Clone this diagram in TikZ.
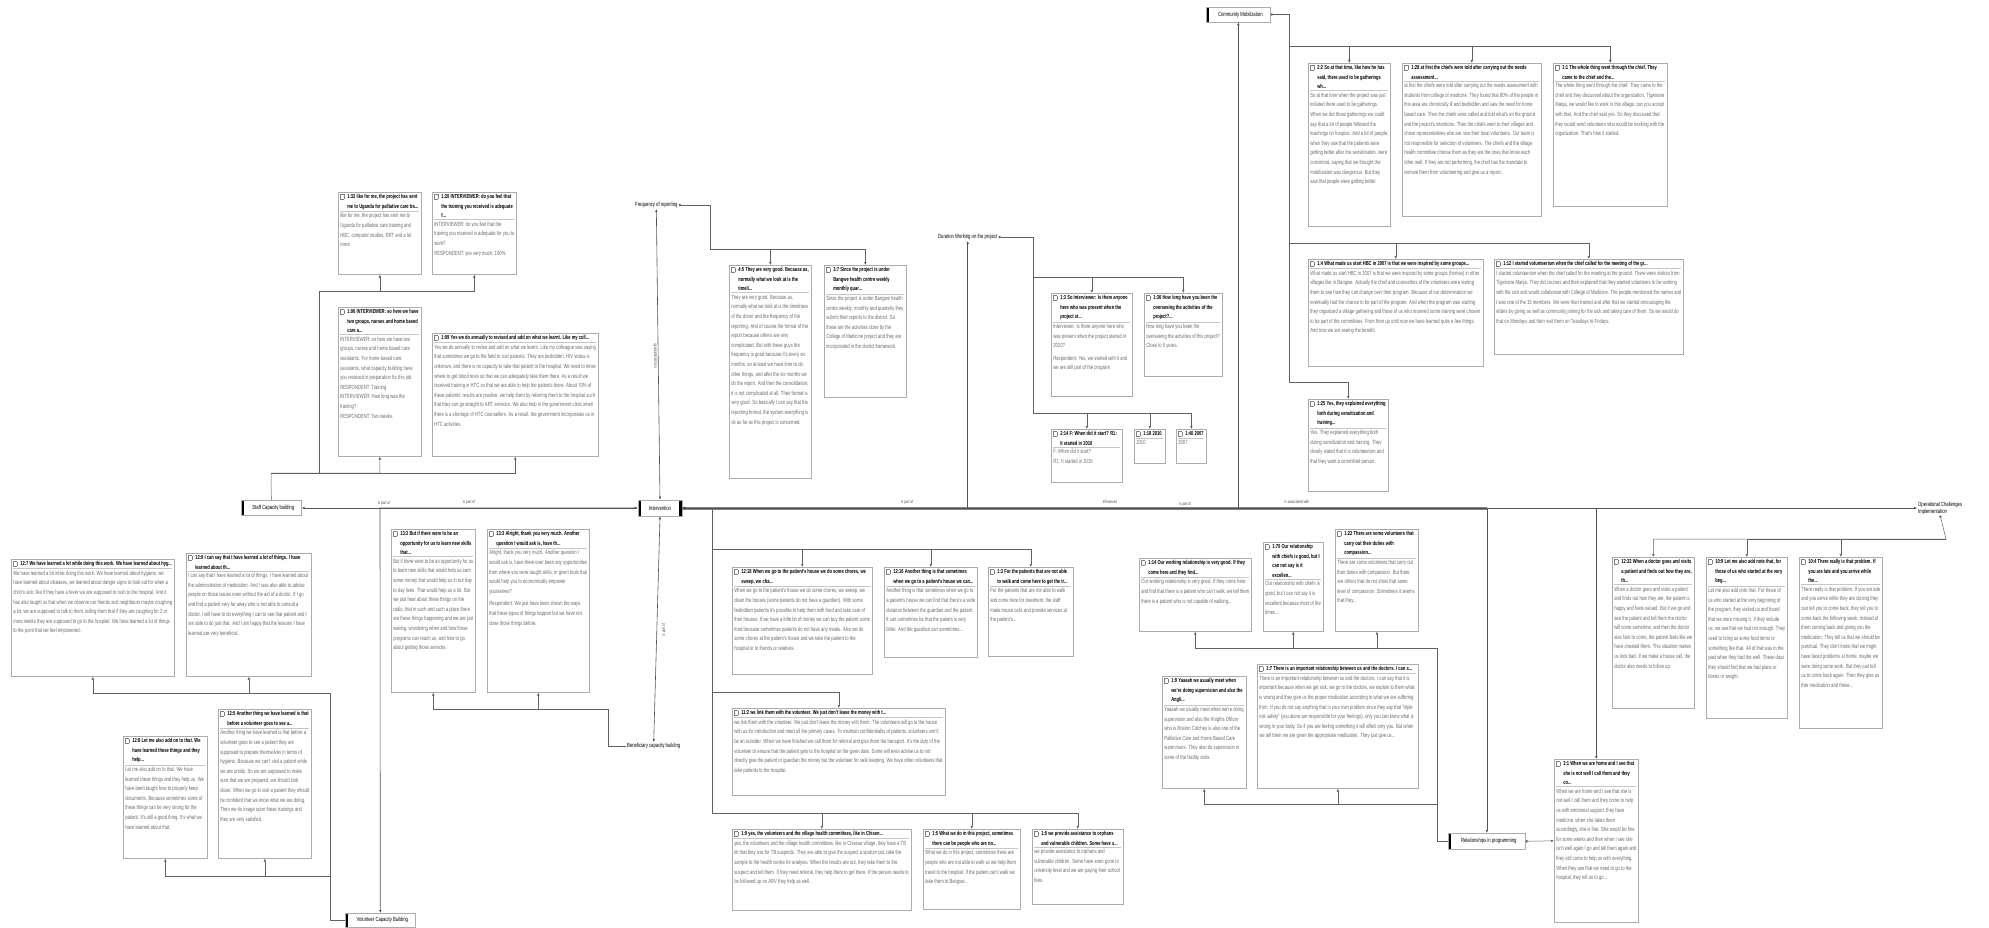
\documentclass[tikz,border=0pt]{standalone}
\usepackage{fontspec}
\setmainfont{Liberation Sans}[FakeStretch=0.7]
\usetikzlibrary{arrows.meta}
\newcommand{\qicon}{{\color{gray}\fboxsep=0pt\fboxrule=.4pt\fbox{\rule{0pt}{4pt}\rule{3pt}{0pt}}}}
\newcommand{\qcontent}[4]{\parbox[c][#2][t]{#1}{\raggedright\fontsize{5.8}{9.6}\selectfont\hangindent=7pt\hangafter=1\noindent\makebox[7pt][l]{\qicon}\textbf{#3}\par\vspace{1.5pt}{\color{gray!45}\hrule height 0.5pt}\vspace{2pt}\fontsize{6}{9.6}\selectfont\color{gray!85!black}#4\par}}
\newcommand{\qb}[7]{\node[qbox] (#1) at (#2,#3) {\qcontent{\dimexpr #4pt-#2pt-5pt\relax}{\dimexpr #5pt-#3pt-5pt\relax}{#6}{#7}};}
\tikzset{
  qbox/.style={draw=gray!65, line width=0.6pt, fill=white, inner sep=2pt, anchor=north west},
  barl/.style={path picture={\fill[black] (path picture bounding box.north west) rectangle ([xshift=3pt]path picture bounding box.south west);}},
  barr/.style={path picture={\fill[black] (path picture bounding box.north west) rectangle ([xshift=3pt]path picture bounding box.south west);\fill[black] (path picture bounding box.north east) rectangle ([xshift=-3pt]path picture bounding box.south east);}},
  code/.style={draw=gray!65, line width=0.6pt, fill=white, inner xsep=3pt, inner ysep=1.5pt, font=\fontsize{6}{7}\selectfont, barl},
  codet/.style={inner sep=1pt, font=\fontsize{6}{7}\selectfont},
  lk/.style={draw=gray!75!black, line width=0.5pt, -{Latex[length=3pt,width=2.6pt]}},
  lkd/.style={draw=gray!75!black, line width=0.5pt, {Circle[length=2.4pt]}-{Latex[length=3pt,width=2.6pt]}},
  rl/.style={draw=gray!65!black, line width=0.6pt, {Latex[length=3pt,width=2.6pt]}-{Latex[length=3pt,width=2.6pt]}},
  trunk/.style={draw=black!50, line width=3pt},
  lbl/.style={font=\fontsize{4.5}{5}\selectfont, inner sep=0.5pt, text=gray!60!black},
}
\begin{document}
\begin{tikzpicture}[x=1pt,y=-1pt]
\useasboundingbox (0,0) rectangle (1989,928);

% ---------------- code nodes ----------------
\node[code, anchor=west, minimum width=60pt, minimum height=15pt] (staff) at (241,508) {\hspace{4pt}Staff Capacity building};
\node[code, barr, minimum width=44pt, minimum height=16pt, inner xsep=5pt] (int) at (660,508) {Intervention};
\node[codet, anchor=west] (fr) at (634,205) {Frequency of reporting};
\node[codet, anchor=west] (dur) at (937,237) {Duration Working on the project};
\node[code, anchor=west, minimum width=64pt, minimum height=15pt] (com) at (1206,14.5) {\hspace{4pt}Community Mobilization};
\node[codet, anchor=west] (ben) at (626,746) {Beneficiary capacity building};
\node[code, anchor=north west, minimum width=70pt, minimum height=14pt] (vol) at (345,913) {\hspace{4pt}Volunteer Capacity Building};
\node[code, anchor=north west, minimum width=77pt, minimum height=16pt] (rel) at (1448,833) {\hspace{4pt}Relationships in programming};
\node[codet, anchor=west, align=left] (op) at (1917,508) {Operational Challenges\\Implementation};

% ---------------- quotation boxes ----------------
% Staff capacity building
\qb{q132}{338}{192}{422}{275}{1:32 like for me, the project has sent me to Uganda for palliative care tra...}{like for me, the project has sent me to Uganda for palliative care training and HBC, computer studies, ERT and a lot more.}
\qb{q120}{432}{192}{517}{275}{1:20 INTERVIEWER: do you feel that the training you received is adequate f...}{INTERVIEWER: do you feel that the training you received is adequate for you to work?\newline RESPONDENT: yes very much, 100\%}
\qb{q106}{338}{307}{422}{457}{1:06 INTERVIEWER: so here we have two groups, nurses and home based care a...}{INTERVIEWER: so here we have two groups, nurses and home based care assistants. For home based care assistants, what capacity building have you received in preparation for this job.\newline RESPONDENT: Training\newline INTERVIEWER: How long was the training?\newline RESPONDENT: Two weeks.}
\qb{q109}{432}{333}{599}{457}{1:09 Yes we do annually to revised and add on what we learnt. Like my coll...}{Yes we do annually to revise and add on what we learnt. Like my colleague was saying that sometimes we go to the field to visit patients. They are bedridden, HIV status is unknown, and there is no capacity to take that patient to the hospital. We need to know where to get blood tests so that we can adequately take them there. As a result we received training in HTC so that we are able to help the patients there. About 70\% of these patients' results are positive, we help them by referring them to the hospital such that they can go straight to ART services. We also help in the government clinic when there is a shortage of HTC counsellors. As a result, the government incorporates us in HTC activities.}

% Volunteer capacity building
\qb{q127}{11}{559}{175}{677}{12:7 We have learned a lot while doing this work. We have learned about hyg...}{We have learned a lot while doing this work. We have learned about hygiene, we have learned about diseases, we learned about danger signs to look out for when a child's sick; like if they have a fever we are supposed to rush to the hospital. And it has also taught us that when we observe our friends and neighbours maybe coughing a lot, we are supposed to talk to them, telling them that if they are coughing for 2 or more weeks they are supposed to go to the hospital. We have learned a lot of things to the point that we feel empowered.}
\qb{q125}{186}{553}{312}{677}{12:9 I can say that I have learned a lot of things. I have learned about th...}{I can say that I have learned a lot of things. I have learned about the administration of medication. And I was also able to advise people on those issues even without the aid of a doctor. If I go and find a patient very far away who is not able to consult a doctor, I will have to do everything I can to see that patient and I am able to do just that. And I am happy that the lessons I have learned are very beneficial.}
\qb{q130}{123}{736}{208}{859}{12:8 Let me also add on to that. We have learned these things and they help...}{Let me also add on to that. We have learned these things and they help us. We have been taught how to properly keep documents. Because sometimes some of these things can be very strong for the patient. It's still a good thing. It's what we have learned about that.}
\qb{q129}{218}{709}{312}{859}{12:5 Another thing we have learned is that before a volunteer goes to see a...}{Another thing we have learned is that before a volunteer goes to see a patient they are supposed to prepare themselves in terms of hygiene. Because we can't visit a patient while we are untidy. So we are supposed to make sure that we are prepared, we should look clean. When we go to visit a patient they should be confident that we know what we are doing. Then we do image upon these trainings and they are very satisfied.}

% Beneficiary capacity building
\qb{q112a}{391}{529}{476}{693}{13:2 But if there were to be an opportunity for us to learn new skills that...}{But if there were to be an opportunity for us to learn new skills that would help us earn some money that would help us in our day to day lives. That would help us a lot. But we just hear about these things on the radio, that in such and such a place there are these things happening and we are just waiting, wondering when and how those programs can reach us, and how to go about getting those services.}
\qb{q13}{487}{529}{590}{693}{13:3 Alright, thank you very much. Another question I would ask is, have th...}{Alright, thank you very much. Another question I would ask is, have there ever been any opportunities from where you were taught skills, or given tools that would help you to economically empower yourselves?\par\vspace{3pt}Respondent: We just have been shown the ways that these types of things happen but we have not done those things before.}

% Frequency of reporting
\qb{q45}{729}{265}{812}{479}{4:5 They are very good. Because as, normally what we look at is the timeli...}{They are very good. Because as, normally what we look at is the timeliness of the donor and the frequency of the reporting. And of course the format of the report because others are very complicated. But with these guys the frequency is good because it's every six months, so at least we have time to do other things, and after the six months we do the report. And then the consolidation, it is not complicated at all. Their format is very good. So basically I can say that the reporting format, the system everything is ok as far as this project is concerned.}
\qb{q37}{824}{265}{907}{398}{3:7 Since the project is under Bangwe health centre weekly monthly quar...}{Since the project is under Bangwe health centre weekly, monthly and quarterly they submit their reports to the district. So these are the activities done by the College of Medicine project and they are incorporated in the district framework.}

% Duration
\qb{q3i}{1051}{293}{1133}{397}{1:3 So Interviewer: Is there anyone here who was present when the project st...}{Interviewer: Is there anyone here who was present when the project started in 2010?\par\vspace{3pt}Respondent: Yes, we started with it and we are still part of the program}
\qb{q36}{1144}{293}{1223}{377}{1:36 How long have you been the overseeing the activities of the project?...}{How long have you been the overseeing the activities of this project?\newline Close to 5 years.}
\qb{q4}{1051}{429}{1123}{483}{2:14 F: When did it start? R1: It started in 2010}{F: When did it start?\newline R1: It started in 2010}
\qb{q18}{1134}{429}{1166}{464}{1:18 2010}{2010}
\qb{q40}{1176}{429}{1207}{464}{1:40 2007}{2007}

% Community mobilization
\qb{q22}{1308}{63}{1391}{227}{2:2 So at that time, like how he has said, there used to be gatherings wh...}{So at that time when the project was just initiated there used to be gatherings. When we did those gatherings we could say that a lot of people followed the teachings on hospice. And a lot of people, when they saw that the patients were getting better after the sensitization, were convinced, saying that we thought the mobilization was dangerous. But they saw that people were getting better.}
\qb{q28}{1402}{63}{1542}{217}{1:28 at first the chiefs were told after carrying out the needs assessment...}{at first the chiefs were told after carrying out the needs assessment with students from college of medicine. They found that 80\% of the people in this area are chronically ill and bedridden and saw the need for home based care. Then the chiefs were called and told what's on the ground and the project's intentions. Then the chiefs went to their villages and chose representatives who are now their local volunteers. Our team is not responsible for selection of volunteers. The chiefs and the village health committee choose them as they are the ones that know each other well. If they are not performing, the chief has the mandate to remove them from volunteering and give us a report.}
\qb{q1}{1553}{63}{1668}{207}{1:1 The whole thing went through the chief. They came to the chief and the...}{The whole thing went through the chief. They came to the chief and they discussed about the organization, Tigwirane Manja, we would like to work in this village, can you accept with that. And the chief said yes. So they discussed that they would send volunteers who would be working with the organization. That's how it started.}
\qb{q14}{1308}{259}{1484}{367}{1:4 What made us start HBC in 2007 is that we were inspired by some groups...}{What made us start HBC in 2007 is that we were inspired by some groups (homes) in other villages like in Bangwe. Actually the chief and counsellors of the volunteers were visiting them to see how they can change over their program. Because of our determination we eventually had the chance to be part of the program. And when the program was starting they organized a village gathering and those of us who received some training were chosen to be part of the committees. From then up until now we have learned quite a few things. And now we are seeing the benefit.}
\qb{q12}{1494}{259}{1684}{355}{1:12 I started volunteerism when the chief called for the meeting of the gr...}{I started volunteerism when the chief called for the meeting at the ground. There were visitors from Tigwirane Manja. They did courses and then explained that they wanted volunteers to be working with the sick and would collaborate with College of Medicine. The people mentioned the names and I was one of the 15 members. We were then trained and after that we started encouraging the elders by giving as well as community joining for the sick and taking care of them. So we would do that on Mondays and then visit them on Tuesdays to Fridays.}
\qb{q25}{1308}{399}{1389}{492}{1:25 Yes, they explained everything both during sensitization and training...}{Yes. They explained everything both during sensitization and training. They clearly stated that it is volunteerism and that they want a committed person.}

% Intervention (bottom)
\qb{q118}{732}{567}{873}{675}{12:18 When we go to the patient's house we do some chores, we sweep, we cha...}{When we go to the patient's house we do some chores, we sweep, we clean the houses (some patients do not have a guardian). With some bedridden patients it's possible to help them with food and take care of their houses. If we have a little bit of money we can buy the patient some food because sometimes patients do not have any meals. Also we do some chores at the patient's house and we take the patient to the hospital or to friends or relatives.}
\qb{q216}{884}{567}{978}{658}{12:16 Another thing is that sometimes when we go to a patient's house we can...}{Another thing is that sometimes when we go to a patient's house we can find that there's a wide distance between the guardian and the patient. It can sometimes be that the patient is very bitter. And the guardian can sometimes...}
\qb{q3p}{988}{567}{1074}{657}{1:3 For the patients that are not able to walk and come here to get the tr...}{For the patients that are not able to walk and come here for treatment, the staff make house calls and provide services at the patient's...}
\qb{q112b}{732}{708}{946}{796}{11:2 we link them with the volunteer. We just don't leave the money with t...}{we link them with the volunteer. We just don't leave the money with them. The volunteers will go to the house with us for introduction and meet all the primary cases. To maintain confidentiality of patients, volunteers won't be an outsider. When we have finished we call them for referral and give them the transport. It's the duty of the volunteer to ensure that the patient gets to the hospital on the given date. Some will even advise us to not directly give the patient or guardian the money but the volunteer for safe keeping. We have other volunteers that take patients to the hospital.}
\qb{q19}{732}{829}{912}{911}{1:9 yes, the volunteers and the village health committees, like in Chisen...}{yes, the volunteers and the village health committees, like in Chisese village, they have a TB kit that they use for TB suspects. They are able to give the suspect a sputum pot, take the sample to the health centre for analysis. When the results are out, they take them to the suspect and tell them. If they need referral, they help them to get there. If the person needs to be followed up on ARV they help as well.}
\qb{q15}{923}{829}{1021}{910}{1:5 What we do in this project, sometimes there can be people who are no...}{What we do in this project, sometimes there are people who are not able to walk so we help them travel to the hospital. If the patient can't walk we take them to Bangwe...}
\qb{q5}{1032}{829}{1124}{905}{1:5 we provide assistance to orphans and vulnerable children. Some have s...}{we provide assistance to orphans and vulnerable children. Some have even gone to university level and we are paying their school fees.}

% Relationships in programming
\qb{q14w}{1139}{558}{1252}{632}{1:14 Our working relationship is very good. If they come here and they find...}{Our working relationship is very good. If they come here and find that there is a patient who can't walk, we tell them there is a patient who is not capable of walking...}
\qb{q170}{1263}{542}{1324}{632}{1:70 Our relationship with chiefs is good, but I can not say is it excellen...}{Our relationship with chiefs is good, but I can not say it is excellent because most of the times...}
\qb{q122}{1335}{529}{1419}{632}{1:22 There are some volunteers that carry out their duties with compassion...}{There are some volunteers that carry out their duties with compassion. But there are others that do not show that same level of compassion. Sometimes it seems that they...}
\qb{q19y}{1162}{676}{1247}{789}{1:9 Yaaaah we usually meet when we're doing supervision and also the Angli...}{Yaaaah we usually meet when we're doing supervision and also the Knights Officer who is Roston Cotchey is also one of the Palliative Care and Home Based Care supervisors. They also do supervision in some of the facility visits.}
\qb{q17}{1257}{664}{1419}{789}{1:7 There is an important relationship between us and the doctors. I can s...}{There is an important relationship between us and the doctors. I can say that it is important because when we get sick, we go to the doctors, we explain to them what is wrong and they give us the proper medication according to what we are suffering from. If you do not say anything that is your own problem since they say that ``triple risk safety'' (you alone are responsible for your feelings), only you can know what is wrong in your body. So if you are feeling something it will affect only you. But when we tell them we are given the appropriate medication. They just give us...}
\qb{q3h}{1554}{759}{1639}{923}{3:1 When we are home and I see that she is not well I call them and they co...}{When we are home and I see that she is not well I call them and they come to help us with emotional support, they have medicine, when she takes them accordingly, she is fine. She would be fine for some weeks and then when I see she isn't well again I go and tell them again and they still come to help us with everything. When they see that we need to go to the hospital, they tell us to go...}

% Operational challenges
\qb{q232}{1612}{557}{1695}{709}{12:32 When a doctor goes and visits a patient and finds out how they are, th...}{When a doctor goes and visits a patient and finds out how they are, the patient is happy and feels valued. But if we go and see the patient and tell them the doctor will come sometime, and then the doctor also fails to come, the patient feels like we have cheated them. This situation makes us look bad. If we make a house call, the doctor also needs to follow up.}
\qb{q109l}{1706}{557}{1788}{719}{10:9 Let me also add note that, for those of us who started at the very beg...}{Let me also add onto that. For those of us who started at the very beginning of the program, they visited us and found that we were missing it. If they include us, we see that we had not enough. They used to bring us some food items or something like that. All of that was in the past when they had the well. These days they should find that we had plans or boxes or weight.}
\qb{q34}{1799}{557}{1883}{729}{10:4 There really is that problem. If you are late and you arrive while the...}{There really is that problem. If you are late and you arrive while they are closing they can tell you to come back, they tell you to come back the following week. Instead of them coming back and giving you the medication. They tell us that we should be punctual. They don't know that we might have faced problems at home, maybe we were doing some work. But they just tell us to come back again. Then they give us free medication and these...}

% ---------------- junction coordinates ----------------
\coordinate (s1) at (271,473); \coordinate (s2) at (319,473); \coordinate (s3) at (319,291);
\coordinate (v1) at (330,693); \coordinate (v2) at (330,876); \coordinate (m1) at (380,508);
\coordinate (b1) at (608,709);
\coordinate (f1) at (710,249);
\coordinate (d1) at (1033,277); \coordinate (d2) at (1033,413);
\coordinate (c1) at (1289,46); \coordinate (c2) at (1289,243); \coordinate (c3) at (1289,382);
\coordinate (i1) at (712,508); \coordinate (i2) at (712,549); \coordinate (i3) at (712,692); \coordinate (i4) at (712,813);
\coordinate (r1) at (1437,648); \coordinate (r2) at (1437,804);
\coordinate (o1) at (1946,539);
\coordinate (t1) at (1487,508);

% ---------------- main trunk between codes ----------------
\draw[trunk] (int.east) -- (t1);
\draw[rl] (staff.east) -- (int.west);
\draw[rl] (vol.north) -- (m1) -- (int.west);
\draw[rl] (fr.south) -- (int.north);
\draw[rl] (int.south) -- (ben.north);
\draw[rl] (dur.south) |- (int.east);
\draw[rl] (com.south) |- (int.east);
\draw[rl] (rel.north) |- (int.east);
\draw[rl] (op.west) -- (int.east);
\draw[rl] (q3h.north) |- (int.east);

\node[lbl] at (469,502) {is part of};
\node[lbl] at (384,503) {is part of};
\node[lbl, rotate=90] at (655,356) {is associated with};
\node[lbl, rotate=90] at (664,630) {is part of};
\node[lbl] at (907,502) {is part of};
\node[lbl] at (1110,502) {Influences};
\node[lbl] at (1185,504) {is part of};
\node[lbl] at (1297,502) {is associated with};

% ---------------- trees ----------------
\draw[lk] (staff.north) -- (s1) -| (q106.south);
\draw[lk] (s1) -| (q109.south);
\draw[lk] (s2) -- (s3) -| (q132.south);
\draw[lk] (s3) -| (q120.south);

\draw[lk] (vol.west) -| (v1) -| (q127.south);
\draw[lk] (v1) -| (q125.south);
\draw[lk] (v2) -| (q130.south);
\draw[lk] (v2) -| (q129.south);

\draw[lk] (ben.west) -| (b1) -| (q112a.south);
\draw[lk] (b1) -| (q13.south);

\draw[lkd] (fr.east) -| (f1) -| (q45.north);
\draw[lk] (f1) -| (q37.north);

\draw[lkd] (dur.east) -| (d1) -| (q3i.north);
\draw[lk] (d1) -| (q36.north);
\draw[lk] (d1) -- (d2) -| (q4.north);
\draw[lk] (d2) -| (q18.north);
\draw[lk] (d2) -| (q40.north);

\draw[lkd] (com.east) -| (c1) -| (q22.north);
\draw[lk] (c1) -| (q28.north);
\draw[lk] (c1) -| (q1.north);
\draw[lk] (c1) -- (c2) -| (q14.north);
\draw[lk] (c2) -| (q12.north);
\draw[lk] (c2) -- (c3) -| (q25.north);

\draw[lk] (i1) -- (i2) -| (q118.north);
\draw[lk] (i2) -| (q216.north);
\draw[lk] (i2) -| (q3p.north);
\draw[lk] (i2) -- (i3) -| (q112b.north);
\draw[lk] (i3) -- (i4) -| (q19.north);
\draw[lk] (i4) -| (q15.north);
\draw[lk] (i4) -| (q5.north);

\draw[lk] (rel.west) -| (r1) -| (q14w.south);
\draw[lk] (r1) -| (q170.south);
\draw[lk] (r1) -| (q122.south);
\draw[lk] (r2) -| (q19y.south);
\draw[lk] (r2) -| (q17.south);
\draw[lkd] (rel.east) -- (q3h.west);

\draw[lkd] (op.south) -- (o1) -| (q232.north);
\draw[lk] (o1) -| (q109l.north);
\draw[lk] (o1) -| (q34.north);
\end{tikzpicture}
\end{document}
